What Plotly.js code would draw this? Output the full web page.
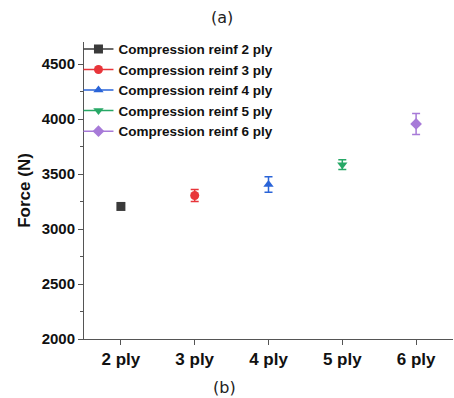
<!DOCTYPE html>
<html><head><meta charset="utf-8">
<script src="https://cdn.plot.ly/plotly-3.0.1.min.js"></script>
<style>html,body{margin:0;padding:0;background:#fff}#c{width:454px;height:398px}</style>
</head><body><div id="c"></div>
<script>
const categories = ["2 ply", "3 ply", "4 ply", "5 ply", "6 ply"];
const seriesNames = ["Compression reinf 2 ply", "Compression reinf 3 ply", "Compression reinf 4 ply", "Compression reinf 5 ply", "Compression reinf 6 ply"];
const forceMean = [3205, 3305, 3405, 3585, 3955];
const forceErr = [15, 55, 70, 45, 95];
const colors = ["#3a3a3a", "#e8353a", "#2a64d8", "#27a866", "#a77ad8"];
const symbols = ["square", "circle", "triangle-up", "triangle-down", "diamond"];
const yTicks = [2000, 2500, 3000, 3500, 4000, 4500];

const font = "Arial, 'Liberation Sans', sans-serif";
const traces = categories.map((c, i) => ({
  type: "scatter", mode: "lines+markers",
  x: [c], y: [forceMean[i]], name: seriesNames[i],
  marker: {symbol: symbols[i], size: 9, color: colors[i]},
  line: {color: colors[i], width: 1.5},
  error_y: {type: "data", array: [forceErr[i]], visible: i > 0, color: colors[i], thickness: 1.5, width: 4}
}));

const layout = {
  width: 454, height: 398,
  margin: {l: 84, r: 1, t: 42, b: 59},
  paper_bgcolor: "#fff", plot_bgcolor: "#fff",
  showlegend: true,
  legend: {x: -0.015, y: 1.028, xanchor: "left", yanchor: "top", bgcolor: "rgba(0,0,0,0)",
    font: {family: font, size: 13.5, color: "#111", weight: "bold"}, tracegroupgap: 0, itemwidth: 30},
  xaxis: {type: "category", categoryorder: "array", categoryarray: categories, range: [-0.5, 4.5],
    showline: true, linecolor: "#555", linewidth: 1, showgrid: false, zeroline: false,
    ticks: "outside", ticklen: 5, tickcolor: "#555",
    tickfont: {family: font, size: 17, color: "#111", weight: "bold"}},
  yaxis: {range: [2000, 4700], tickvals: yTicks, showline: true, linecolor: "#555", linewidth: 1,
    showgrid: false, zeroline: false, ticks: "outside", ticklen: 5, tickcolor: "#555",
    minor: {dtick: 250, ticks: "outside", ticklen: 3, tickcolor: "#555"},
    tickfont: {family: font, size: 15, color: "#111", weight: "bold"},
    title: {text: "Force (N)", font: {family: font, size: 17, color: "#111", weight: "bold"}, standoff: 6}},
  annotations: [
    {text: "(a)", xref: "paper", yref: "paper", x: 0.375, y: 1, yshift: 13, showarrow: false, xanchor: "center", yanchor: "bottom",
      font: {family: "'DejaVu Sans', sans-serif", size: 16, color: "#222"}},
    {text: "(b)", xref: "paper", yref: "paper", x: 0.382, y: 0, yshift: -37, showarrow: false, xanchor: "center", yanchor: "top",
      font: {family: "'DejaVu Sans', sans-serif", size: 16, color: "#222"}}
  ]
};
Plotly.newPlot("c", traces, layout, {displayModeBar: false, staticPlot: true});
</script></body></html>
